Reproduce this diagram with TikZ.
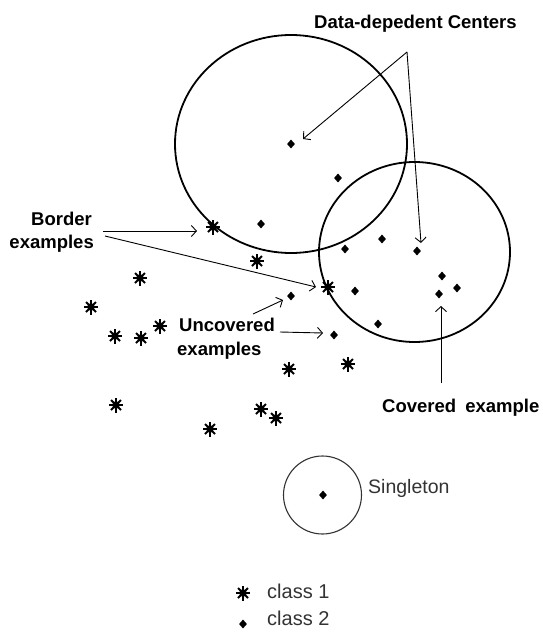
\documentclass[tikz,border=0pt]{standalone}
\usepackage{fontspec}
\setmainfont{Liberation Sans}
\usetikzlibrary{shapes.geometric,arrows.meta}
\begin{document}
\begin{tikzpicture}[x=1pt,y=-1pt,
  ring/.style={ellipse, draw, line width=1.8pt, inner sep=0},
  cls2/.style={diamond, fill=black, inner sep=0, minimum width=8pt, minimum height=9pt},
  cls1/.style={circle, inner sep=0, minimum size=16pt, path picture={
      \coordinate (pc) at (path picture bounding box.center);
      \fill (pc) circle (3.8pt);
      \draw[line width=1.9pt] ([xshift=-7pt]pc) -- ([xshift=7pt]pc);
      \draw[line width=1.9pt] ([yshift=-7.5pt]pc) -- ([yshift=7.5pt]pc);
      \draw[line width=1.8pt] ([shift={(-5pt,-5pt)}]pc) -- ([shift={(5pt,5pt)}]pc);
      \draw[line width=1.8pt] ([shift={(-5pt,5pt)}]pc) -- ([shift={(5pt,-5pt)}]pc);
  }},
  conn/.style={line width=0.9pt, -{Straight Barb[length=5pt,width=11pt,line width=0.9pt]}},
  bold/.style={font=\fontsize{18.5}{22}\selectfont\bfseries, inner sep=0},
  plain/.style={font=\fontsize{19.5}{23}\selectfont, text=black!80, inner sep=0}
]
\useasboundingbox[fill=white] (0,0) rectangle (542,632);

% circles
\node[ring, minimum width=232pt, minimum height=218pt] (c1) at (291,144) {};
\node[ring, minimum width=191pt, minimum height=180pt] (c2) at (414.5,252) {};
\node[ellipse, draw=black!80, line width=1.1pt, inner sep=0, minimum size=78pt] (c3) at (322.5,495) {};

% class 2 points
\node[cls2] (d1) at (291,144) {};
\node[cls2] (d2) at (338,178) {};
\node[cls2] (d3) at (261,224) {};
\node[cls2] (d4) at (345,249) {};
\node[cls2] (d5) at (382,239) {};
\node[cls2] (d6) at (417,251) {};
\node[cls2] (d7) at (442,276) {};
\node[cls2] (d8) at (457,288) {};
\node[cls2] (d9) at (439,294) {};
\node[cls2] (d10) at (355,291) {};
\node[cls2] (d11) at (378,324) {};
\node[cls2] (d12) at (291,296) {};
\node[cls2] (d13) at (334,335) {};
\node[cls2] (d14) at (323,495) {};

% class 1 points
\node[cls1] (s1) at (213,227) {};
\node[cls1] (s2) at (257,261) {};
\node[cls1] (s3) at (328,287) {};
\node[cls1] (s4) at (140,278) {};
\node[cls1] (s5) at (91,307) {};
\node[cls1] (s6) at (115,336) {};
\node[cls1] (s7) at (141,338) {};
\node[cls1] (s8) at (160,326) {};
\node[cls1] (s9) at (289,369) {};
\node[cls1] (s10) at (348,364) {};
\node[cls1] (s11) at (116,405) {};
\node[cls1] (s12) at (261,409) {};
\node[cls1] (s13) at (276,418) {};
\node[cls1] (s14) at (210,429) {};

% labels
\node[bold, anchor=base west] (ldc) at (314,28.5) {Data-depedent Centers};
\node[bold, anchor=base east] (lb1) at (92,225) {Border};
\node[bold, anchor=base east] (lb2) at (94,248) {examples};
\node[bold, anchor=base west] (lu1) at (179,331) {Uncovered};
\node[bold, anchor=base west] (lu2) at (177,355) {examples};
\node[bold, anchor=base west] (lce) at (382,412) {Covered\hspace{4pt} example};
\node[plain, anchor=base west] (lsg) at (368,493) {Singleton};

% legend
\node[cls1] (k1) at (243,593) {};
\node[cls2] (k2) at (243,624) {};
\node[plain, font=\fontsize{20}{24}\selectfont, anchor=base west] (lk1) at (267,598) {class 1};
\node[plain, font=\fontsize{20}{24}\selectfont, anchor=base west] (lk2) at (267,625) {class 2};

% arrow end points
\coordinate (dcs) at (407,52);
\coordinate (dct1) at (303,139);
\coordinate (dct2) at (421,243);
\coordinate (bs1) at (103,231);
\coordinate (bt1) at (197,231);
\coordinate (bs2) at (105,236);
\coordinate (bt2) at (316,287);
\coordinate (us1) at (253,314);
\coordinate (ut1) at (283,300);
\coordinate (us2) at (280,332);
\coordinate (ut2) at (323,333);
\coordinate (cs) at (441,383);
\coordinate (ct) at (441,306);

\draw[conn] (dcs) -- (dct1);
\draw[conn] (dcs) -- (dct2);
\draw[conn] (bs1) -- (bt1);
\draw[conn] (bs2) -- (bt2);
\draw[conn] (us1) -- (ut1);
\draw[conn] (us2) -- (ut2);
\draw[conn] (cs) -- (ct);
\end{tikzpicture}
\end{document}
